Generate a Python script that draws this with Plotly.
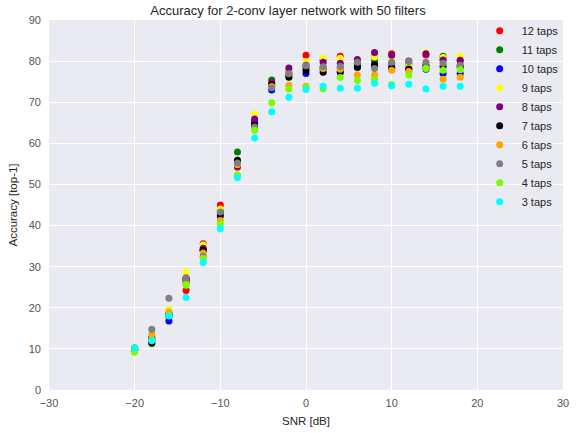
import plotly.graph_objects as go

snr = [-20, -18, -16, -14, -12, -10, -8, -6, -4, -2, 0, 2, 4, 6, 8, 10, 12, 14, 16, 18]

taps_12 = [9.8, 12.5, 18.0, 24.2, 35.6, 45.0, 54.2, 65.0, 74.0, 77.5, 81.4, 80.2, 81.2, 79.5, 81.1, 81.8, 79.5, 81.5, 80.5, 80.0]
taps_11 = [9.9, 11.3, 17.8, 26.5, 34.0, 43.8, 57.9, 64.8, 75.4, 77.0, 78.5, 78.5, 78.3, 79.2, 80.0, 79.5, 79.0, 78.4, 81.2, 79.0]
taps_10 = [10.0, 12.0, 16.8, 26.3, 34.0, 43.6, 54.6, 65.3, 73.0, 76.6, 77.0, 78.0, 77.2, 78.5, 79.0, 78.5, 78.0, 78.0, 77.0, 77.0]
taps_9 = [9.4, 13.0, 19.6, 28.7, 35.3, 44.0, 55.0, 67.1, 74.2, 77.3, 79.9, 80.7, 80.7, 80.0, 81.0, 80.5, 79.2, 82.1, 80.9, 81.2]
taps_8 = [9.8, 12.7, 18.4, 27.0, 34.5, 43.0, 55.3, 65.9, 74.8, 78.3, 79.0, 79.7, 79.5, 80.4, 82.1, 81.4, 80.0, 81.8, 80.3, 80.2]
taps_7 = [9.7, 11.5, 18.6, 27.2, 34.0, 42.3, 55.9, 64.4, 74.3, 76.1, 77.8, 77.3, 77.5, 78.5, 79.1, 78.2, 78.1, 79.0, 78.7, 78.5]
taps_6 = [9.8, 13.6, 19.0, 26.0, 33.3, 41.2, 54.8, 63.8, 73.8, 74.1, 73.9, 78.2, 78.0, 76.6, 76.6, 77.8, 77.5, 78.3, 75.6, 76.1]
taps_5 = [10.3, 14.8, 22.3, 27.3, 32.5, 43.3, 55.2, 64.0, 73.5, 76.9, 78.9, 78.6, 78.7, 79.7, 78.2, 79.7, 79.9, 79.7, 79.5, 79.0]
taps_4 = [9.2, 12.2, 18.2, 25.5, 32.0, 40.4, 52.3, 63.2, 69.9, 73.2, 73.6, 73.3, 76.0, 75.3, 75.6, 74.3, 76.6, 78.2, 77.8, 77.9]
taps_3 = [10.2, 12.0, 18.0, 22.5, 31.0, 39.3, 51.7, 61.3, 67.7, 71.2, 73.1, 73.9, 73.4, 73.4, 74.6, 74.0, 74.4, 73.2, 73.9, 73.9]

series_names = ["12 taps", "11 taps", "10 taps", "9 taps", "8 taps", "7 taps", "6 taps", "5 taps", "4 taps", "3 taps"]
series_values = [taps_12, taps_11, taps_10, taps_9, taps_8, taps_7, taps_6, taps_5, taps_4, taps_3]
series_colors = ["#ff0000", "#008000", "#0000ff", "#ffff00", "#800080", "#000000", "#ffa500", "#808080", "#7cfc00", "#00ffff"]

fig = go.Figure()
for name, vals, col in zip(series_names, series_values, series_colors):
    fig.add_trace(go.Scatter(
        x=snr, y=vals, mode="markers", name=name,
        marker=dict(color=col, size=7, line=dict(width=0)),
    ))

font_fam = "Liberation Sans, Arial, sans-serif"
fig.update_layout(
    width=576, height=433,
    margin=dict(l=49, r=7, t=20, b=43),
    paper_bgcolor="white",
    plot_bgcolor="#EAEAF2",
    font=dict(family=font_fam, color="#262626", size=11),
    title=dict(text="Accuracy for 2-conv layer network with 50 filters",
               x=0.5, xanchor="center", y=0.977, yanchor="middle",
               font=dict(size=13, color="#262626")),
    xaxis=dict(range=[-30, 30], dtick=10, tick0=-30, showgrid=True, gridcolor="white", gridwidth=1,
               zeroline=False, showline=False, ticks="", ticklen=0, ticklabelstandoff=5,
               title=dict(text="SNR [dB]", font=dict(size=11.5), standoff=8),
               tickfont=dict(size=11, color="#555555")),
    yaxis=dict(range=[0, 90], dtick=10, tick0=0, showgrid=True, gridcolor="white", gridwidth=1,
               zeroline=False, showline=False, ticks="", ticklen=0, ticklabelstandoff=7,
               title=dict(text="Accuracy [top-1]", font=dict(size=11.5), standoff=8),
               tickfont=dict(size=11, color="#555555")),
    legend=dict(x=0.834, y=1.01, xanchor="left", yanchor="top",
                bgcolor="rgba(0,0,0,0)", borderwidth=0,
                font=dict(size=11, color="#262626"), itemwidth=34),
    showlegend=True,
)

fig.write_html("out.html", config={"displayModeBar": False},
               post_script="document.body.style.margin='0px';")
